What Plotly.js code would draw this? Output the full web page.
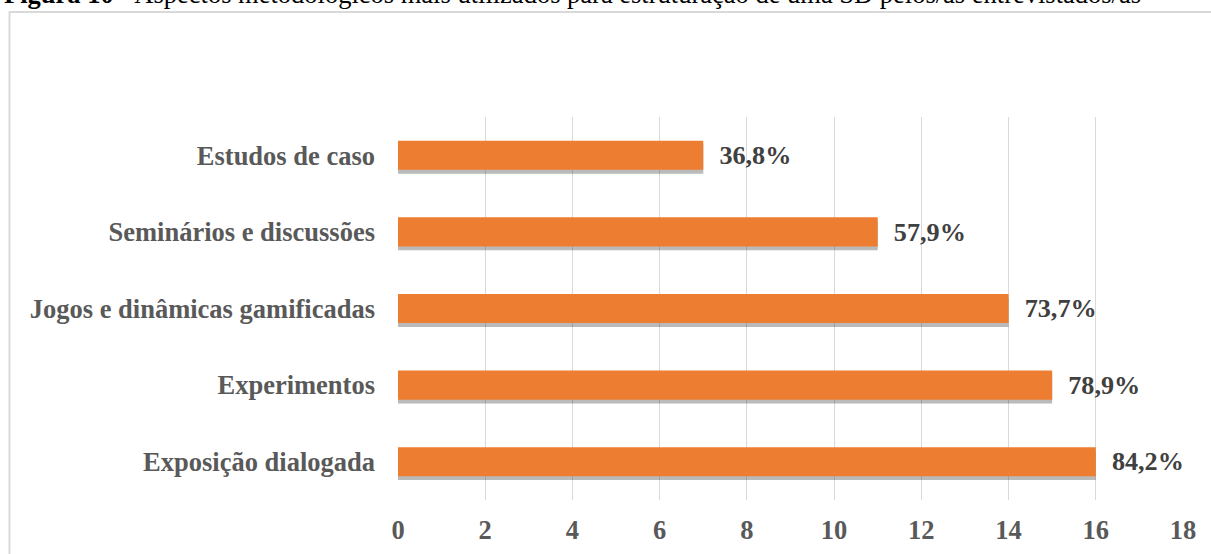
<!DOCTYPE html>
<html>
<head>
<meta charset="utf-8">
<script src="https://cdn.plot.ly/plotly-3.0.1.min.js"></script>
<style>html,body{margin:0;padding:0;background:#fff;}#chart{width:1211px;height:554px;}</style>
</head>
<body>
<div id="chart"></div>
<script>
var categories = ["Estudos de caso", "Seminários e discussões", "Jogos e dinâmicas gamificadas", "Experimentos", "Exposição dialogada"];
var counts = [7, 11, 14, 15, 16];
var percentLabels = ["36,8%", "57,9%", "73,7%", "78,9%", "84,2%"];
var tickValues = [0, 2, 4, 6, 8, 10, 12, 14, 16, 18];
var titleText = "<b>Figura 10</b> - Aspectos metodológicos mais utilizados para estruturação de uma SD pelos/as entrevistados/as";

var serif = "Liberation Serif, Times New Roman, serif";

var shadow = {
  type: "bar", orientation: "h", y: categories, x: counts,
  width: 0.38, offset: -0.14,
  marker: {color: "rgba(40,40,40,0.32)"},
  hoverinfo: "skip", showlegend: false
};
var bars = {
  type: "bar", orientation: "h", y: categories, x: counts,
  width: 0.38, offset: -0.19,
  marker: {color: "#ED7D31"},
  text: percentLabels, texttemplate: "\u00a0\u00a0%{text}",
  textposition: "outside", cliponaxis: false,
  textfont: {family: serif, size: 27, color: "#404040", weight: "bold"},
  showlegend: false
};

var layout = {
  width: 1211, height: 554,
  margin: {l: 398, r: 28, t: 117, b: 54},
  paper_bgcolor: "#ffffff", plot_bgcolor: "#ffffff",
  barmode: "overlay",
  xaxis: {
    range: [0, 18], tickvals: tickValues, ticktext: tickValues.map(String),
    showgrid: true, gridcolor: "#d9d9d9", gridwidth: 1,
    zeroline: false, showline: false, ticks: "",
    tickfont: {family: serif, size: 26.5, color: "#595959", weight: "bold"},
    ticklabelstandoff: 11
  },
  yaxis: {
    autorange: "reversed", showgrid: false, zeroline: false, showline: false, ticks: "",
    tickfont: {family: serif, size: 26.5, color: "#595959", weight: "bold"},
    ticklabelstandoff: 22
  },
  annotations: [{
    text: titleText, xref: "paper", yref: "paper", x: -0.505, y: 1.277,
    xanchor: "left", yanchor: "bottom", showarrow: false,
    font: {family: serif, size: 26.5, color: "#000000"}
  }],
  shapes: [{
    type: "rect", xref: "paper", yref: "paper", x0: -0.4949, x1: 1.1, y0: -0.2, y1: 1.274,
    line: {color: "#d9d9d9", width: 2}, fillcolor: "rgba(0,0,0,0)", layer: "below"
  }]
};

Plotly.newPlot("chart", [shadow, bars], layout, {displayModeBar: false, staticPlot: true});
</script>
</body>
</html>
